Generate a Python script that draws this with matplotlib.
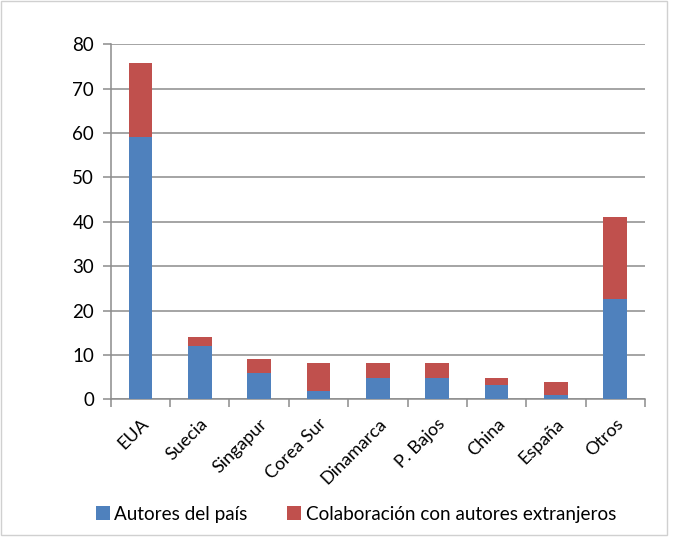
import numpy as np
import matplotlib.pyplot as plt
from matplotlib.patches import Rectangle

paises = ['EUA', 'Suecia', 'Singapur', 'Corea Sur', 'Dinamarca',
          'P. Bajos', 'China', 'España', 'Otros']
autores_pais = [59, 11.9, 6, 1.9, 4.7, 4.7, 3.2, 1, 22.7]
colaboracion = [16.7, 2.1, 3, 6.2, 3.4, 3.4, 1.5, 2.9, 18.3]
y_ticks = [0, 10, 20, 30, 40, 50, 60, 70, 80]

plt.rcParams['font.family'] = ['Lato', 'DejaVu Sans']

fig = plt.figure(figsize=(6.74, 5.39), dpi=100)
ax = fig.add_axes([110.7 / 674, 1 - 399.3 / 539, (645 - 110.7) / 674, (399.3 - 44.3) / 539])

x = np.arange(len(paises))
blue = '#4f81bd'
red = '#c0504d'
ax.bar(x, autores_pais, width=0.4, color=blue, label='Autores del país', zorder=3)
ax.bar(x, colaboracion, width=0.4, bottom=autores_pais, color=red,
       label='Colaboración con autores extranjeros', zorder=3)

ax.set_xlim(-0.5, len(paises) - 0.5)
ax.set_ylim(0, 80)
ax.set_yticks(y_ticks)
ax.yaxis.grid(True, color='#8c8c8c', lw=1.1, zorder=0)

ax.set_xticks(np.arange(-0.5, len(paises), 1.0))
ax.set_xticklabels([])
ax.set_xticks(x, minor=True)
ax.set_xticklabels(paises, minor=True, rotation=45, ha='right', rotation_mode='anchor', fontsize=13)
ax.tick_params(axis='x', which='minor', length=0, pad=12)
ax.tick_params(axis='x', which='major', length=6, color='#8c8c8c', width=1.1)
ax.tick_params(axis='y', length=6, color='#8c8c8c', width=1.1, labelsize=13.5, pad=6)

for s in ['top', 'right']:
    ax.spines[s].set_visible(False)
for s in ['left', 'bottom']:
    ax.spines[s].set_color('#8c8c8c')
    ax.spines[s].set_linewidth(1.1)

ax.legend(loc='upper center', bbox_to_anchor=(0.459, -0.252), ncol=2, frameon=False,
          fontsize=13.6, handlelength=0.72, handleheight=0.72, handletextpad=0.25,
          columnspacing=2.1)

fig.patches.append(Rectangle((0.002, 0.008), 0.988, 0.99, transform=fig.transFigure,
                             fill=False, edgecolor='#d0d0d0', lw=1))

fig.savefig('out.png', dpi=100)
